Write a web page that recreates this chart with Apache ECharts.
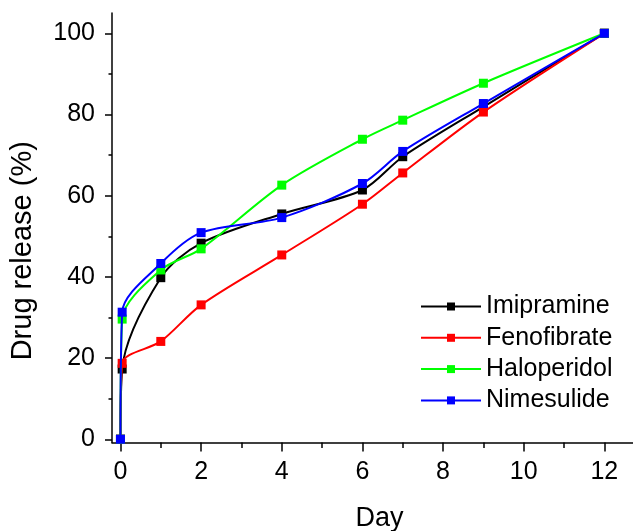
<!DOCTYPE html>
<html>
<head>
<meta charset="utf-8">
<script src="https://cdn.jsdelivr.net/npm/echarts@6/dist/echarts.min.js"></script>
<style>
html,body{margin:0;padding:0;background:#fff;}
#main{width:633px;height:531px;}
</style>
</head>
<body>
<div id="main"></div>
<script>
// Time points (days); 0.042 d = 1 h sample
var days = [0, 0.042, 1, 2, 4, 6, 7, 9, 12];
var seriesNames = ['Imipramine', 'Fenofibrate', 'Haloperidol', 'Nimesulide'];
var imipramine  = [0, 17.3, 39.8, 48.3, 55.5, 61.4, 69.6, 81.9, 100];
var fenofibrate = [0, 18.7, 24.1, 33.1, 45.4, 57.9, 65.6, 80.6, 100];
var haloperidol = [0, 29.6, 41.7, 46.9, 62.6, 73.9, 78.6, 87.7, 100];
var nimesulide  = [0, 31.3, 43.3, 50.9, 54.6, 63.0, 70.9, 82.7, 100];
var colors = ['#000000', '#ff0000', '#00ff00', '#0000ff'];
var xLabelTicks = [0, 2, 4, 6, 8, 10, 12];
var xMinorTicks = [1, 3, 5, 7, 9, 11];
var yLabelTicks = [0, 20, 40, 60, 80, 100];
var yMinorTicks = [10, 30, 50, 70, 90];

var FONT = 'Arial, "Liberation Sans", sans-serif';
var allData = [imipramine, fenofibrate, haloperidol, nimesulide];

function pairs(vals) {
  return days.map(function (d, i) { return [d, vals[i]]; });
}

var series = allData.map(function (vals, i) {
  return {
    name: seriesNames[i],
    type: 'line',
    data: pairs(vals),
    smooth: 0.3,
    symbol: 'rect',
    symbolSize: 9,
    showAllSymbol: true,
    lineStyle: { color: colors[i], width: 2 },
    itemStyle: { color: colors[i] },
    emphasis: { disabled: true },
    z: 2 + i,
    xAxisIndex: 0,
    yAxisIndex: 0
  };
});

var xMin = -0.21, xMax = 12.71, yMin = -0.8, yMax = 105;

var option = {
  animation: false,
  backgroundColor: '#ffffff',
  grid: { left: 112, right: 0, top: 13, bottom: 88.5, containLabel: false, outerBoundsMode: 'none' },
  legend: {
    orient: 'vertical',
    left: 420,
    top: 294,
    padding: 0,
    itemWidth: 60,
    itemHeight: 10,
    itemGap: 6.3,
    textStyle: { fontFamily: FONT, fontSize: 25, color: '#000' },
    data: seriesNames
  },
  xAxis: [{
    type: 'value',
    min: xMin, max: xMax,
    position: 'bottom',
    name: 'Day',
    nameLocation: 'middle',
    nameGap: 63,
    nameTextStyle: { fontFamily: FONT, fontSize: 27, color: '#000', padding: [0, 0, 0, 14] },
    axisLine: { show: true, onZero: false, lineStyle: { color: '#000', width: 1.5 } },
    axisTick: { show: true, inside: false, length: 9, customValues: xLabelTicks, lineStyle: { color: '#000', width: 1.5 } },
    axisLabel: { fontFamily: FONT, fontSize: 25, color: '#000', margin: 17, customValues: xLabelTicks },
    splitLine: { show: false }
  }, {
    type: 'value',
    min: xMin, max: xMax,
    position: 'bottom',
    axisLine: { show: false, onZero: false },
    axisTick: { show: true, inside: false, length: 5.5, customValues: xMinorTicks, lineStyle: { color: '#000', width: 1.5 } },
    axisLabel: { show: false },
    splitLine: { show: false }
  }],
  yAxis: [{
    type: 'value',
    min: yMin, max: yMax,
    position: 'left',
    name: 'Drug release (%)',
    nameLocation: 'middle',
    nameGap: 75,
    nameTextStyle: { fontFamily: FONT, fontSize: 29, color: '#000', padding: [0, 46, 0, 0] },
    axisLine: { show: true, onZero: false, lineStyle: { color: '#000', width: 1.5 } },
    axisTick: { show: true, inside: false, length: 7, customValues: yLabelTicks, lineStyle: { color: '#000', width: 1.5 } },
    axisLabel: { fontFamily: FONT, fontSize: 25, color: '#000', margin: 17, customValues: yLabelTicks },
    splitLine: { show: false }
  }, {
    type: 'value',
    min: yMin, max: yMax,
    position: 'left',
    axisLine: { show: false, onZero: false },
    axisTick: { show: true, inside: false, length: 3.5, customValues: yMinorTicks, lineStyle: { color: '#000', width: 1.5 } },
    axisLabel: { show: false },
    splitLine: { show: false }
  }],
  series: series
};

var chart = echarts.init(document.getElementById('main'), null, { renderer: 'canvas' });
chart.setOption(option);
</script>
</body>
</html>
